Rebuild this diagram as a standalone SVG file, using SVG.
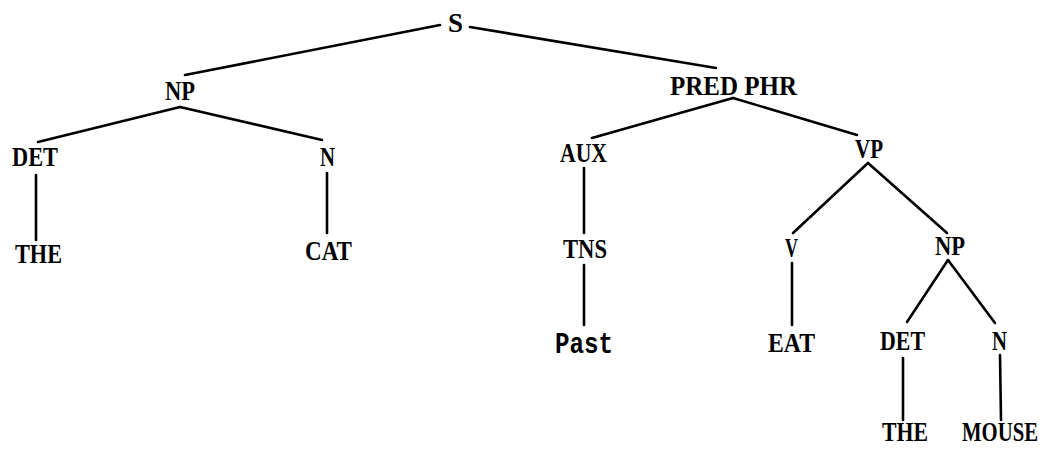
<svg xmlns="http://www.w3.org/2000/svg" width="1048" height="449" viewBox="0 0 1048 449">
<style>
.lbl{font-family:"Liberation Serif","DejaVu Serif",serif;font-weight:bold;font-size:28px;fill:#000;text-anchor:middle}
.mono{font-family:"Liberation Mono","DejaVu Sans Mono",monospace;font-weight:bold;font-size:30px;fill:#000;text-anchor:middle}
.edge{stroke:#000;stroke-width:2.6;fill:none;stroke-linecap:round}
</style>
<rect width="1048" height="449" fill="#fff"/>
<g id="connectors">
<line class="edge" x1="440" y1="25" x2="185" y2="75"/>
<line class="edge" x1="470" y1="27" x2="716" y2="68"/>
<line class="edge" x1="180" y1="107" x2="38" y2="142"/>
<line class="edge" x1="180" y1="107" x2="322" y2="140"/>
<line class="edge" x1="36" y1="175" x2="36" y2="240"/>
<line class="edge" x1="327" y1="173" x2="327" y2="233"/>
<line class="edge" x1="733" y1="98" x2="592" y2="138"/>
<line class="edge" x1="733" y1="98" x2="857" y2="135"/>
<line class="edge" x1="584" y1="168" x2="584" y2="233"/>
<line class="edge" x1="584" y1="265" x2="584" y2="325"/>
<line class="edge" x1="868" y1="163" x2="793" y2="233"/>
<line class="edge" x1="868" y1="163" x2="947" y2="233"/>
<line class="edge" x1="792" y1="263" x2="792" y2="325"/>
<line class="edge" x1="948" y1="260" x2="907" y2="322"/>
<line class="edge" x1="948" y1="260" x2="995" y2="323"/>
<line class="edge" x1="903" y1="358" x2="903" y2="420"/>
<line class="edge" x1="1000" y1="355" x2="1001" y2="420"/>
</g>
<g id="n-S"><text class="lbl" x="455.5" y="32" textLength="15" lengthAdjust="spacingAndGlyphs">S</text></g>
<g id="n-NP1"><text class="lbl" x="180" y="100" textLength="30" lengthAdjust="spacingAndGlyphs">NP</text></g>
<g id="n-DET1"><text class="lbl" x="35" y="166" textLength="46" lengthAdjust="spacingAndGlyphs">DET</text></g>
<g id="n-THE1"><text class="lbl" x="38.5" y="263" textLength="47" lengthAdjust="spacingAndGlyphs">THE</text></g>
<g id="n-N1"><text class="lbl" x="327.5" y="166" textLength="15" lengthAdjust="spacingAndGlyphs">N</text></g>
<g id="n-CAT"><text class="lbl" x="328.5" y="260" textLength="47" lengthAdjust="spacingAndGlyphs">CAT</text></g>
<g id="n-PRED"><text class="lbl" x="733.5" y="95" textLength="127" lengthAdjust="spacingAndGlyphs">PRED PHR</text></g>
<g id="n-AUX"><text class="lbl" x="583.5" y="162" textLength="47" lengthAdjust="spacingAndGlyphs">AUX</text></g>
<g id="n-TNS"><text class="lbl" x="585" y="258" textLength="44" lengthAdjust="spacingAndGlyphs">TNS</text></g>
<g id="n-Past"><text class="mono" x="584" y="353" textLength="58" lengthAdjust="spacingAndGlyphs">Past</text></g>
<g id="n-VP"><text class="lbl" x="869" y="158" textLength="28" lengthAdjust="spacingAndGlyphs">VP</text></g>
<g id="n-V"><text class="lbl" x="791.5" y="257" textLength="13" lengthAdjust="spacingAndGlyphs">V</text></g>
<g id="n-EAT"><text class="lbl" x="791.5" y="352" textLength="47" lengthAdjust="spacingAndGlyphs">EAT</text></g>
<g id="n-NP2"><text class="lbl" x="950" y="255" textLength="30" lengthAdjust="spacingAndGlyphs">NP</text></g>
<g id="n-DET2"><text class="lbl" x="902.5" y="350" textLength="45" lengthAdjust="spacingAndGlyphs">DET</text></g>
<g id="n-N2"><text class="lbl" x="999.5" y="350" textLength="15" lengthAdjust="spacingAndGlyphs">N</text></g>
<g id="n-THE2"><text class="lbl" x="905" y="441" textLength="46" lengthAdjust="spacingAndGlyphs">THE</text></g>
<g id="n-MOUSE"><text class="lbl" x="1000" y="441" textLength="76" lengthAdjust="spacingAndGlyphs">MOUSE</text></g>
</svg>
